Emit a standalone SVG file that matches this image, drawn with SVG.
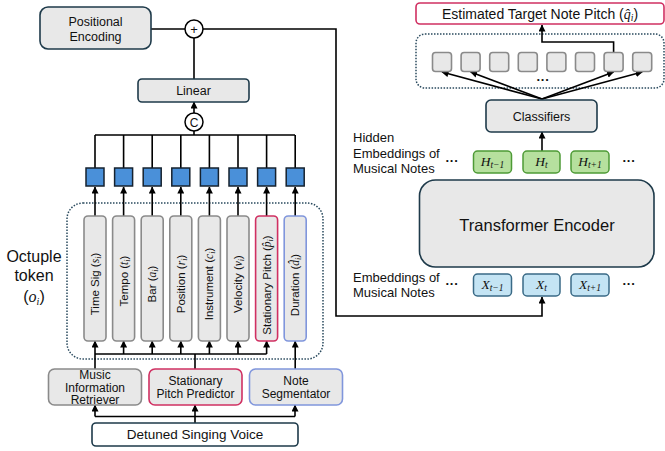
<svg xmlns="http://www.w3.org/2000/svg" width="665" height="451" viewBox="0 0 665 451">
<defs>
<marker id="ah" viewBox="0 0 8 8" refX="7.5" refY="4" markerWidth="7" markerHeight="7" markerUnits="userSpaceOnUse" orient="auto">
<path d="M0,0 L8,4 L0,8 z" fill="#000"/>
</marker>
<style>
text{font-family:"Liberation Sans",Arial,sans-serif;fill:#111;}
.m{font-family:"Liberation Serif","Times New Roman",serif;font-style:italic;}
.pt{font-size:11.5px;text-anchor:middle;}
.box{fill:#e8e8e8;stroke:#1e3a4a;stroke-width:1.6;}
.wbox{fill:#fff;stroke:#1e3a4a;stroke-width:1.6;}
.pil{fill:#e8e8e8;stroke:#8a8a8a;stroke-width:1.6;}
.red{stroke:#d03062;}
.blu{stroke:#8096dc;}
.sq{fill:#4a90d9;stroke:#16222e;stroke-width:1.5;}
.dot{fill:none;stroke:#2a4a5e;stroke-width:1.5;stroke-dasharray:1.5 1.5;}
.ln{fill:none;stroke:#000;stroke-width:1.6;}
.ar{fill:none;stroke:#000;stroke-width:1.6;marker-end:url(#ah);}
.hb{fill:#b6e09e;stroke:#4e9a36;stroke-width:1.5;}
.xb{fill:#c4e4f4;stroke:#3a6a86;stroke-width:1.5;}
.cs{fill:#e8e8e8;stroke:#8a8a8a;stroke-width:1.6;}
</style>
</defs>

<!-- containers -->
<rect class="dot" x="67" y="203" width="256" height="156" rx="16"/>
<rect class="dot" x="416" y="34" width="248" height="54" rx="9"/>

<!-- connectors -->
<g id="connectors">
<path class="ln" d="M151,29 H185"/>
<path class="ar" d="M203,29 H336 V316 H542 V297"/>
<path class="ln" d="M194,79 V38"/>
<path class="ar" d="M194,113 V102"/>
<path class="ln" d="M194,131 V135 M95,135 H295"/>
<path class="ln" d="M95,135 V168 M123.6,135 V168 M152.2,135 V168 M180.8,135 V168 M209.4,135 V168 M238,135 V168 M266.6,135 V168 M295.2,135 V168"/>
<path class="ar" d="M95,216 V187"/>
<path class="ar" d="M123.6,216 V187"/>
<path class="ar" d="M152.2,216 V187"/>
<path class="ar" d="M180.8,216 V187"/>
<path class="ar" d="M209.4,216 V187"/>
<path class="ar" d="M238,216 V187"/>
<path class="ar" d="M266.6,216 V187"/>
<path class="ar" d="M295.2,216 V187"/>
<path class="ln" d="M95,354 H266.6 M95,369 V354 M195,369 V354"/>
<path class="ar" d="M95,354 V341"/>
<path class="ar" d="M123.6,354 V341"/>
<path class="ar" d="M152.2,354 V341"/>
<path class="ar" d="M180.8,354 V341"/>
<path class="ar" d="M209.4,354 V341"/>
<path class="ar" d="M238,354 V341"/>
<path class="ar" d="M266.6,354 V341"/>
<path class="ar" d="M295.2,369 V341"/>
<path class="ln" d="M195,423 V416.5 M95,416.5 H295"/>
<path class="ar" d="M95,416.5 V405"/>
<path class="ar" d="M195,416.5 V405"/>
<path class="ar" d="M295,416.5 V405"/>
<path class="ar" d="M542,99 L442,72"/>
<path class="ar" d="M542,99 L470.6,72"/>
<path class="ar" d="M542,99 L613.6,72"/>
<path class="ar" d="M542,99 L642.2,72"/>
<path class="ar" d="M613.6,52 V42 H542 V25"/>
<path class="ar" d="M542,151 V132"/>
</g>

<!-- left side nodes -->
<g id="positional-encoding">
<rect class="box" x="40" y="7" width="111" height="42" rx="8"/>
<text x="95.5" y="26" font-size="12.5" text-anchor="middle">Positional</text>
<text x="95.5" y="40.5" font-size="12.5" text-anchor="middle">Encoding</text>
</g>
<g id="plus">
<circle cx="194" cy="29" r="9" fill="#fff" stroke="#000" stroke-width="1.5"/>
<text x="194" y="33.5" font-size="13" text-anchor="middle">+</text>
</g>
<g id="linear">
<rect class="box" x="138" y="79" width="111" height="23" rx="4"/>
<text x="193.5" y="95" font-size="12.5" text-anchor="middle">Linear</text>
</g>
<g id="concat">
<circle cx="194" cy="122" r="9" fill="#fff" stroke="#000" stroke-width="1.5"/>
<text x="194" y="126.5" font-size="12" text-anchor="middle">C</text>
</g>

<g id="embeds">
<rect class="sq" x="86" y="168" width="18" height="18"/>
<rect class="sq" x="114.6" y="168" width="18" height="18"/>
<rect class="sq" x="143.2" y="168" width="18" height="18"/>
<rect class="sq" x="171.8" y="168" width="18" height="18"/>
<rect class="sq" x="200.4" y="168" width="18" height="18"/>
<rect class="sq" x="229" y="168" width="18" height="18"/>
<rect class="sq" x="257.6" y="168" width="18" height="18"/>
<rect class="sq" x="286.2" y="168" width="18" height="18"/>
</g>

<g id="tok-timesig">
<rect class="pil" x="84" y="216" width="22" height="125" rx="4"/>
<text class="pt" transform="translate(99,284) rotate(-90)">Time Sig (<tspan class="m">s</tspan><tspan class="m" font-size="8" dy="2">i</tspan><tspan dy="-2">)</tspan></text>
</g>
<g id="tok-tempo">
<rect class="pil" x="112.6" y="216" width="22" height="125" rx="4"/>
<text class="pt" transform="translate(127.6,281) rotate(-90)">Tempo (<tspan class="m">t</tspan><tspan class="m" font-size="8" dy="2">i</tspan><tspan dy="-2">)</tspan></text>
</g>
<g id="tok-bar">
<rect class="pil" x="141.2" y="216" width="22" height="125" rx="4"/>
<text class="pt" transform="translate(156.2,284) rotate(-90)">Bar (<tspan class="m">a</tspan><tspan class="m" font-size="8" dy="2">i</tspan><tspan dy="-2">)</tspan></text>
</g>
<g id="tok-position">
<rect class="pil" x="169.8" y="216" width="22" height="125" rx="4"/>
<text class="pt" transform="translate(184.8,284) rotate(-90)">Position (<tspan class="m">r</tspan><tspan class="m" font-size="8" dy="2">i</tspan><tspan dy="-2">)</tspan></text>
</g>
<g id="tok-instrument">
<rect class="pil" x="198.4" y="216" width="22" height="125" rx="4"/>
<text class="pt" transform="translate(213.4,284) rotate(-90)">Instrument (<tspan class="m">c</tspan><tspan class="m" font-size="8" dy="2">i</tspan><tspan dy="-2">)</tspan></text>
</g>
<g id="tok-velocity">
<rect class="pil" x="227" y="216" width="22" height="125" rx="4"/>
<text class="pt" transform="translate(242,284) rotate(-90)">Velocity (<tspan class="m">v</tspan><tspan class="m" font-size="8" dy="2">i</tspan><tspan dy="-2">)</tspan></text>
</g>
<g id="tok-pitch">
<rect class="pil red" x="255.6" y="216" width="22" height="125" rx="4"/>
<text class="pt" transform="translate(270.6,285) rotate(-90)" font-size="11">Stationary Pitch (<tspan class="m">p̂</tspan><tspan class="m" font-size="8" dy="2">i</tspan><tspan dy="-2">)</tspan></text>
</g>
<g id="tok-duration">
<rect class="pil blu" x="284.2" y="216" width="22" height="125" rx="4"/>
<text class="pt" transform="translate(299.2,285) rotate(-90)">Duration (<tspan class="m">d̂</tspan><tspan class="m" font-size="8" dy="2">i</tspan><tspan dy="-2">)</tspan></text>
</g>

<g id="octuple-label">
<text x="34" y="261.5" font-size="16" text-anchor="middle">Octuple</text>
<text x="34" y="280.5" font-size="16" text-anchor="middle">token</text>
<text x="34" y="302" font-size="16" text-anchor="middle">(<tspan class="m">o</tspan><tspan class="m" font-size="10" dy="3">i</tspan><tspan dy="-3">)</tspan></text>
</g>

<g id="mir">
<rect class="pil" x="48.5" y="369" width="93" height="36" rx="6"/>
<text x="95" y="379" font-size="12" text-anchor="middle">Music</text>
<text x="95" y="391.5" font-size="12" text-anchor="middle">Information</text>
<text x="95" y="404" font-size="12" text-anchor="middle">Retriever</text>
</g>
<g id="spp">
<rect class="pil red" x="149" y="369" width="93" height="36" rx="6"/>
<text x="195.5" y="384.5" font-size="12" text-anchor="middle">Stationary</text>
<text x="195.5" y="397.5" font-size="12" text-anchor="middle">Pitch Predictor</text>
</g>
<g id="note-seg">
<rect class="pil blu" x="249.5" y="369" width="93" height="36" rx="6"/>
<text x="296" y="384.5" font-size="12" text-anchor="middle">Note</text>
<text x="296" y="397.5" font-size="12" text-anchor="middle">Segmentator</text>
</g>
<g id="detuned">
<rect class="wbox" x="92" y="423" width="206" height="23" rx="4"/>
<text x="195" y="439" font-size="13.5" text-anchor="middle">Detuned Singing Voice</text>
</g>

<!-- right side nodes -->
<g id="estimated">
<rect x="416" y="3" width="248" height="21" rx="4" fill="#fff" stroke="#d03062" stroke-width="1.6"/>
<text x="540" y="18.5" font-size="14" text-anchor="middle">Estimated Target Note Pitch (<tspan class="m">q̂</tspan><tspan class="m" font-size="9.5" dy="2">i</tspan><tspan dy="-2">)</tspan></text>
</g>
<g id="class-outputs">
<rect class="cs" x="432.5" y="52.5" width="19" height="19" rx="3"/>
<rect class="cs" x="461.1" y="52.5" width="19" height="19" rx="3"/>
<rect class="cs" x="489.7" y="52.5" width="19" height="19" rx="3"/>
<rect class="cs" x="518.3" y="52.5" width="19" height="19" rx="3"/>
<rect class="cs" x="546.9" y="52.5" width="19" height="19" rx="3"/>
<rect class="cs" x="575.5" y="52.5" width="19" height="19" rx="3"/>
<rect class="cs red" x="604.1" y="52.5" width="19" height="19" rx="3"/>
<rect class="cs blu" x="632.7" y="52.5" width="19" height="19" rx="3"/>
<text x="543" y="84" font-size="13" font-weight="bold" text-anchor="middle">···</text>
</g>
<g id="classifiers">
<rect class="box" x="486" y="100" width="111" height="32" rx="5"/>
<text x="541.5" y="120.5" font-size="12.5" text-anchor="middle">Classifiers</text>
</g>

<g id="hidden-label">
<text x="353" y="142" font-size="13">Hidden</text>
<text x="353" y="158" font-size="13">Embeddings of</text>
<text x="353" y="172.5" font-size="13">Musical Notes</text>
<text x="452" y="165" font-size="13" font-weight="bold" text-anchor="middle">···</text>
<text x="629" y="165" font-size="13" font-weight="bold" text-anchor="middle">···</text>
</g>
<g id="h-prev">
<rect class="hb" x="473.5" y="151" width="38" height="22" rx="4"/>
<text x="492.5" y="166" font-size="13.5" text-anchor="middle"><tspan class="m">H</tspan><tspan class="m" font-size="9.5" dy="2">t−1</tspan></text>
</g>
<g id="h-cur">
<rect class="hb" x="523" y="151" width="37" height="22" rx="4"/>
<text x="541.5" y="166" font-size="13.5" text-anchor="middle"><tspan class="m">H</tspan><tspan class="m" font-size="9.5" dy="2">t</tspan></text>
</g>
<g id="h-next">
<rect class="hb" x="571" y="151" width="38" height="22" rx="4"/>
<text x="590" y="166" font-size="13.5" text-anchor="middle"><tspan class="m">H</tspan><tspan class="m" font-size="9.5" dy="2">t+1</tspan></text>
</g>

<g id="transformer">
<rect class="box" x="419.5" y="180" width="234.5" height="87" rx="16"/>
<text x="537" y="231" font-size="16.5" text-anchor="middle">Transformer Encoder</text>
</g>

<g id="emb-label">
<text x="353" y="281.5" font-size="13">Embeddings of</text>
<text x="353" y="296.5" font-size="13">Musical Notes</text>
<text x="452" y="288" font-size="13" font-weight="bold" text-anchor="middle">···</text>
<text x="629" y="288" font-size="13" font-weight="bold" text-anchor="middle">···</text>
</g>
<g id="x-prev">
<rect class="xb" x="473.5" y="274" width="38" height="22" rx="4"/>
<text x="492.5" y="289" font-size="13.5" text-anchor="middle"><tspan class="m">X</tspan><tspan class="m" font-size="9.5" dy="2">t−1</tspan></text>
</g>
<g id="x-cur">
<rect class="xb" x="523" y="274" width="37" height="22" rx="4"/>
<text x="541.5" y="289" font-size="13.5" text-anchor="middle"><tspan class="m">X</tspan><tspan class="m" font-size="9.5" dy="2">t</tspan></text>
</g>
<g id="x-next">
<rect class="xb" x="571" y="274" width="38" height="22" rx="4"/>
<text x="590" y="289" font-size="13.5" text-anchor="middle"><tspan class="m">X</tspan><tspan class="m" font-size="9.5" dy="2">t+1</tspan></text>
</g>
</svg>
